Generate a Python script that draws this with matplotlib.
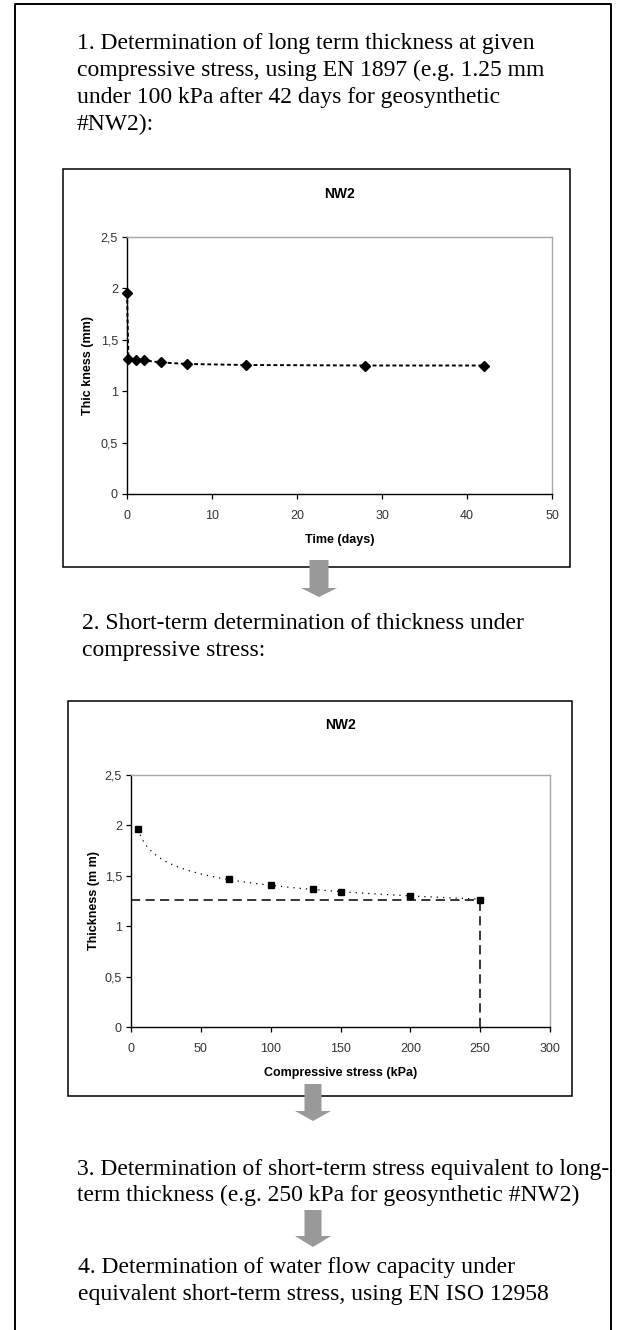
"""
Flow chart for the long-term water flow capacity procedure of geosynthetic NW2:
creep thickness over time, thickness against compressive stress, and the
steps that link them.
"""

import numpy as np
import matplotlib.pyplot as plt
from matplotlib.patches import Rectangle, Polygon
from matplotlib.lines import Line2D

# creep test (EN 1897), 100 kPa
days = [0, 0.17, 1, 2, 4, 7, 14, 28, 42]
creep_thickness = [1.955, 1.31, 1.30, 1.30, 1.28, 1.265, 1.255, 1.25, 1.25]

# short-term compression test
stress = [5, 70, 100, 130, 150, 200, 250]
st_thickness = [1.96, 1.47, 1.41, 1.37, 1.34, 1.30, 1.26]

# equivalent short-term stress for the long-term thickness
long_term_thickness = 1.26
equiv_stress = 250

step1 = ["1. Determination of long term thickness at given",
         "compressive stress, using EN 1897 (e.g. 1.25 mm",
         "under 100 kPa after 42 days for geosynthetic",
         "#NW2):"]
step2 = ["2. Short-term determination of thickness under",
         "compressive stress:"]
step3 = ["3. Determination of short-term stress equivalent to long-",
         "term thickness (e.g. 250 kPa for geosynthetic #NW2)"]
step4 = ["4. Determination of water flow capacity under",
         "equivalent short-term stress, using EN ISO 12958"]

W, H = 624, 1330
fig = plt.figure(figsize=(W / 100, H / 100), dpi=100)
fig.patch.set_facecolor("white")


def axes_px(x0, y0, x1, y1):
    # pixel box (from top-left) -> figure fraction
    return fig.add_axes([x0 / W, 1 - y1 / H, (x1 - x0) / W, (y1 - y0) / H])


def comma(v, pos):
    s = "%g" % v
    return s.replace(".", ",")


def style_chart(ax, xlim, xstep, xlabel, ylabel, ypad):
    ax.set_xlim(*xlim)
    ax.set_ylim(0, 2.5)
    ax.set_xticks(np.arange(xlim[0], xlim[1] + 1, xstep))
    ax.set_yticks([0, 0.5, 1, 1.5, 2, 2.5])
    ax.yaxis.set_major_formatter(plt.FuncFormatter(comma))
    for side in ("left", "bottom"):
        ax.spines[side].set_color("black")
        ax.spines[side].set_linewidth(1.0)
    for side in ("top", "right"):
        ax.spines[side].set_color("#a6a6a6")
        ax.spines[side].set_linewidth(1.0)
    ax.tick_params(direction="out", length=3.5, width=0.9, labelsize=9,
                   colors="black", pad=3)
    ax.tick_params(axis="x", pad=8)
    for lab in ax.get_xticklabels() + ax.get_yticklabels():
        lab.set_fontfamily("Liberation Sans")
        lab.set_color("#333333")
    ax.set_xlabel(xlabel, fontfamily="Liberation Sans", fontweight="bold",
                  fontsize=9, labelpad=9)
    ax.set_ylabel(ylabel, fontfamily="Liberation Sans", fontweight="bold",
                  fontsize=9, labelpad=ypad)


# chart 1: thickness vs time
ax1 = axes_px(127, 237, 552, 494)
ax1.plot(days, creep_thickness, color="black", lw=1.4,
         linestyle=(0, (2, 1.4)), marker="D", markersize=5.5,
         markerfacecolor="black", markeredgecolor="black", clip_on=False)
style_chart(ax1, (0, 50), 10, "Time (days)", "Thic kness (mm)", 5)
ax1.set_title("NW2", fontfamily="Liberation Sans", fontweight="bold",
              fontsize=10, pad=28)

# chart 2: thickness vs compressive stress, with power trend line
ax2 = axes_px(131, 775, 550, 1027)
b, log_a = np.polyfit(np.log(stress), np.log(st_thickness), 1)
xs = np.linspace(stress[0], stress[-1], 200)
ax2.plot(xs, np.exp(log_a) * xs ** b, color="black", lw=0.9,
         linestyle=(0, (1, 4)))
ax2.plot([0, equiv_stress], [long_term_thickness, long_term_thickness],
         color="black", lw=1.1, linestyle=(0, (6, 3.5)))
ax2.plot([equiv_stress, equiv_stress], [0, long_term_thickness],
         color="black", lw=1.1, linestyle=(0, (6, 3.5)))
ax2.plot(stress, st_thickness, linestyle="none", marker="s", markersize=5,
         markerfacecolor="black", markeredgecolor="black", zorder=5)
style_chart(ax2, (0, 300), 50, "Compressive stress (kPa)", "Thickness (m m)", 3.5)
ax2.set_title("NW2", fontfamily="Liberation Sans", fontweight="bold",
              fontsize=10, pad=33)

# overlay in pixel units for frames, text and arrows
ov = fig.add_axes([0, 0, 1, 1], zorder=10)
ov.set_xlim(0, W)
ov.set_ylim(H, 0)
ov.axis("off")

# outer frame (open at the bottom)
ov.add_line(Line2D([15, 15, 611, 611], [H, 4, 4, H], color="black", lw=1.4))

# chart frames
ov.add_patch(Rectangle((63, 169), 507, 398, fill=False, ec="black", lw=1.1))
ov.add_patch(Rectangle((68, 701), 504, 395, fill=False, ec="black", lw=1.1))


def block(lines, x, y0, step=27):
    for i, line in enumerate(lines):
        ov.text(x, y0 + i * step, line, fontfamily="Liberation Serif",
                fontsize=17, va="baseline", ha="left", color="black")


block(step1, 77, 49)
block(step2, 82, 629)
block(step3, 77, 1175, 26)
block(step4, 78, 1273)


def arrow(cx, top, neck, tip, shaft=17, head=36):
    pts = [(cx - shaft / 2, top), (cx + shaft / 2, top), (cx + shaft / 2, neck),
           (cx + head / 2, neck), (cx, tip), (cx - head / 2, neck),
           (cx - shaft / 2, neck)]
    ov.add_patch(Polygon(pts, closed=True, fc="#999999", ec="none"))


arrow(319, 560, 588, 597, shaft=19)
arrow(313, 1084, 1111, 1121)
arrow(313, 1210, 1236, 1247)

fig.savefig("out.png", dpi=100, facecolor="white")
